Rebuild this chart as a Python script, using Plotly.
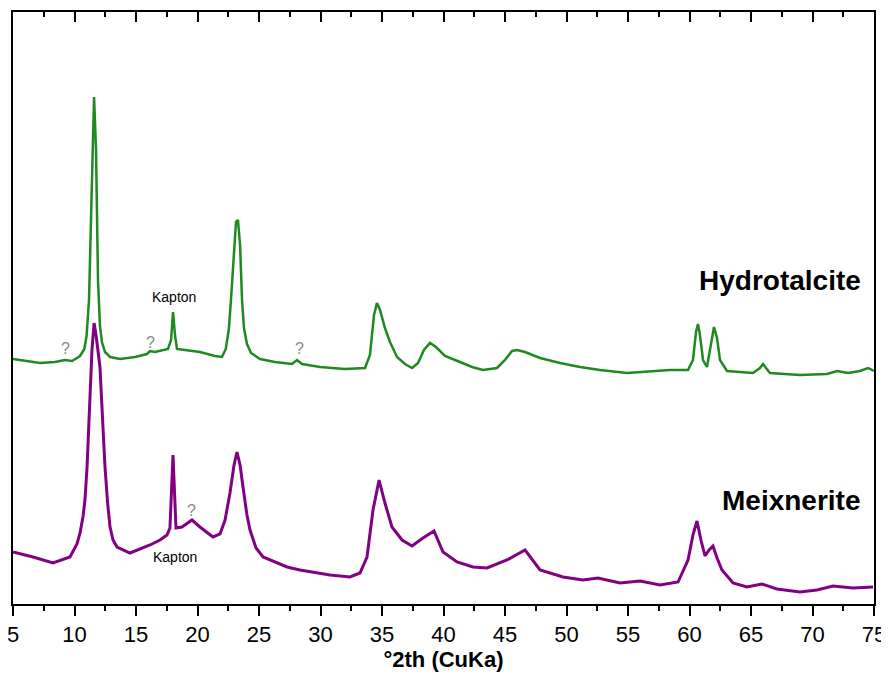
import plotly.graph_objects as go

# Hydrotalcite (upper, green) — 2theta (deg) and displayed intensity (a.u., offset included)
hydro_2th = [5.00, 6.20, 7.20, 8.40, 9.23, 9.80, 10.45, 10.80, 10.98, 11.18, 11.42, 11.59, 11.75, 11.91, 12.07,
             12.23, 12.48, 12.89, 13.70, 14.92, 15.89, 16.14, 16.54, 17.60, 17.85, 18.01, 18.17, 18.33, 18.98,
             20.20, 21.42, 21.99, 22.30, 22.55, 22.72, 22.97, 23.13, 23.29, 23.46, 23.62, 23.78, 24.02, 24.35,
             25.08, 26.30, 27.68, 28.09, 28.50, 29.96, 31.99, 33.62, 34.02, 34.35, 34.59, 34.84, 35.24, 35.65,
             36.22, 36.87, 37.44, 37.93, 38.41, 38.90, 39.39, 40.12, 41.34, 42.32, 43.21, 44.35, 45.00, 45.57,
             45.98, 46.63, 47.85, 49.47, 51.10, 52.72, 54.92, 56.79, 58.41, 59.88, 60.28, 60.53, 60.69, 60.85,
             61.10, 61.42, 61.75, 61.99, 62.24, 62.48, 63.05, 65.16, 65.73, 65.98, 66.22, 66.54, 68.98, 71.18,
             72.00, 72.89, 73.86, 74.51, 75.00]
hydro_int = [245, 243, 241, 242, 244, 243, 248, 255, 268, 304, 434, 507, 454, 324, 278,
             262, 252, 247, 245, 247, 250, 253, 252, 255, 264, 292, 269, 255, 254,
             252, 248, 247, 255, 275, 304, 354, 382, 384, 359, 304, 276, 260, 251,
             245, 242, 240, 244, 240, 237, 235, 236, 249, 289, 301, 294, 276, 262,
             247, 240, 236, 241, 254, 261, 257, 248, 242, 237, 234, 236, 244, 253,
             254, 252, 246, 241, 237, 234, 231, 233, 234, 234, 244, 272, 280, 269,
             244, 237, 259, 277, 266, 244, 233, 231, 236, 240, 236, 231, 229, 230,
             233, 231, 233, 236, 233]

# Meixnerite (lower, purple)
meix_2th = [5.00, 6.63, 8.25, 9.63, 10.20, 10.45, 10.70, 10.85, 11.02, 11.26, 11.42, 11.59, 11.75, 12.07, 12.30,
            12.48, 12.70, 12.89, 13.13, 13.46, 14.51, 15.33, 16.14, 16.95, 17.52, 17.76, 17.93, 18.01, 18.09,
            18.25, 18.74, 19.55, 20.20, 21.26, 21.83, 22.24, 22.64, 22.97, 23.21, 23.46, 23.70, 24.02, 24.27,
            24.76, 25.33, 27.28, 28.33, 30.77, 32.40, 33.21, 33.78, 34.27, 34.76, 35.24, 35.81, 36.63, 37.44,
            38.33, 39.23, 39.96, 41.10, 42.40, 43.54, 45.16, 46.63, 47.85, 49.72, 51.34, 52.56, 54.35, 55.98,
            57.60, 59.07, 59.88, 60.28, 60.61, 60.93, 61.26, 61.59, 61.91, 62.24, 62.64, 63.54, 64.67, 65.89,
            67.11, 68.98, 70.37, 71.67, 73.29, 74.92]
meix_int = [52, 47, 41, 47, 60, 71, 88, 104, 137, 204, 254, 281, 269, 237, 180,
            137, 100, 77, 64, 57, 51, 55, 59, 64, 69, 76, 124, 149, 124,
            76, 77, 84, 77, 67, 70, 84, 111, 139, 152, 139, 117, 89, 74,
            56, 47, 37, 34, 29, 27, 31, 47, 94, 124, 101, 77, 64, 58,
            66, 73, 52, 42, 37, 36, 44, 54, 34, 27, 24, 26, 21, 23,
            19, 22, 44, 69, 83, 64, 48, 54, 58, 46, 34, 21, 17, 20,
            15, 12, 14, 18, 16, 17]

series_names = ["Hydrotalcite", "Meixnerite"]
series_colors = ["#1f8a1f", "#820082"]

# annotation texts and positions (2theta, intensity)
kapton_labels = ["Kapton", "Kapton"]
kapton_2th = [18.09, 18.17]
kapton_int = [307, 47]
unknown_2th = [9.23, 16.14, 28.33, 19.55]
unknown_int = [256, 262, 256, 94]

x_range = [5, 75]
major_step = 5
minor_step = 2.5

FONT = "Arial, 'Liberation Sans', sans-serif"

fig = go.Figure()
fig.add_trace(go.Scatter(x=hydro_2th, y=hydro_int, mode="lines", name=series_names[0],
                         line=dict(color=series_colors[0], width=2.5), showlegend=False))
fig.add_trace(go.Scatter(x=meix_2th, y=meix_int, mode="lines", name=series_names[1],
                         line=dict(color=series_colors[1], width=3), showlegend=False))
# transparent helper trace that activates the top tick axis
fig.add_trace(go.Scatter(x=x_range, y=[300, 300], xaxis="x2", mode="markers",
                         marker=dict(opacity=0), showlegend=False))

fig.add_annotation(x=74.1, y=324, text="<b>Hydrotalcite</b>", showarrow=False, xanchor="right",
                   font=dict(family=FONT, size=28, color="black"))
fig.add_annotation(x=74.1, y=104, text="<b>Meixnerite</b>", showarrow=False, xanchor="right",
                   font=dict(family=FONT, size=28, color="black"))
for t, x, y in zip(kapton_labels, kapton_2th, kapton_int):
    fig.add_annotation(x=x, y=y, text=t, showarrow=False, font=dict(family=FONT, size=14, color="black"))
for x, y in zip(unknown_2th, unknown_int):
    fig.add_annotation(x=x, y=y, text="?", showarrow=False, font=dict(family=FONT, size=16, color="#8a8a8a"))

# page body has an 8px margin, so the figure is sized/margined to compensate
fig.update_layout(
    width=881, height=674,
    margin=dict(l=5, r=15, t=4, b=78),
    paper_bgcolor="white", plot_bgcolor="white",
    font=dict(family=FONT, color="black"),
    xaxis=dict(range=x_range, tick0=x_range[0], dtick=major_step,
               ticks="outside", ticklen=10, tickwidth=2, tickcolor="black",
               minor=dict(dtick=minor_step, tick0=x_range[0], ticks="outside", ticklen=5,
                          tickwidth=2, tickcolor="black"),
               showline=True, mirror=True, linewidth=2, linecolor="black", showgrid=False, zeroline=False,
               automargin=False, ticklabeloverflow="allow",
               tickfont=dict(family=FONT, size=22, color="black"),
               title=dict(text="<b>°2th (CuKa)</b>", font=dict(family=FONT, size=22, color="black"), standoff=2)),
    # top edge: inward major + minor ticks
    xaxis2=dict(range=x_range, overlaying="x", side="top", dtick=major_step, ticks="inside", ticklen=10,
                tickcolor="black", tickwidth=2, showticklabels=False, showline=False,
                minor=dict(dtick=minor_step, tick0=x_range[0], ticks="inside", ticklen=5,
                           tickwidth=2, tickcolor="black")),
    yaxis=dict(range=[0, 592], showline=True, mirror=True, linewidth=2, linecolor="black",
               showticklabels=False, ticks="", showgrid=False, zeroline=False, automargin=False),
)

fig.write_html("out.html")
